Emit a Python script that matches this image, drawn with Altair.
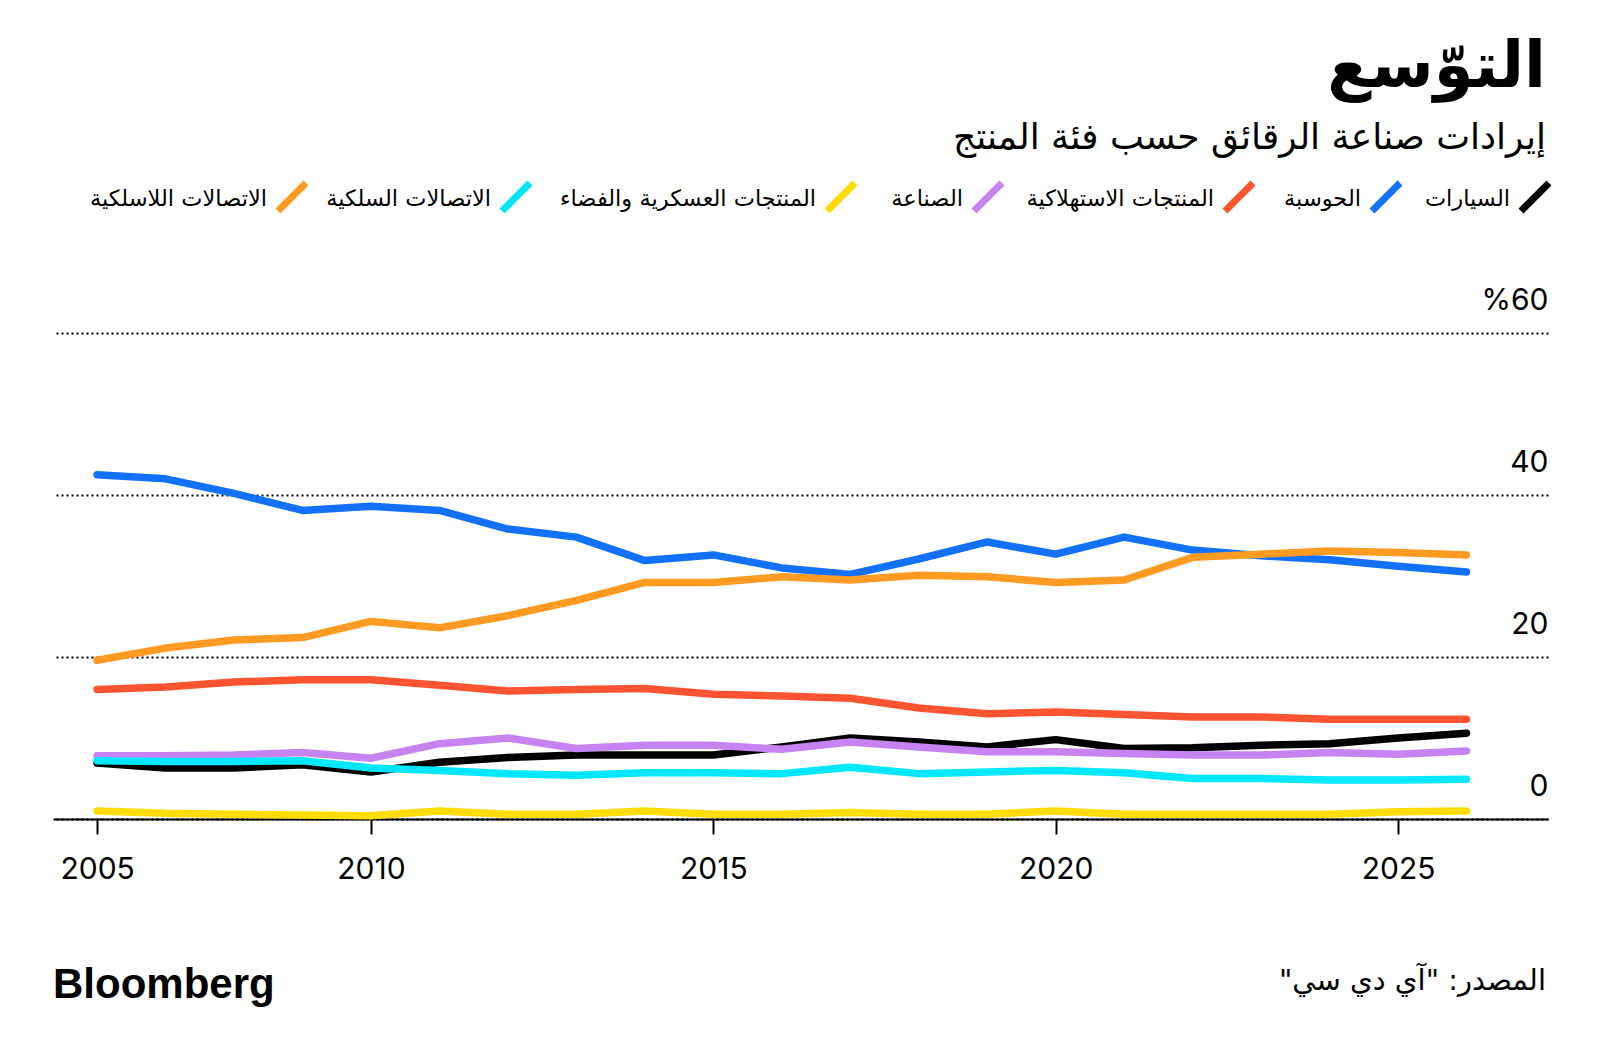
import altair as alt
import pandas as pd

# ---------------- data ----------------
years = list(range(2006, 2027))

series_names = [
    "السيارات",
    "الحوسبة",
    "المنتجات الاستهلاكية",
    "الصناعة",
    "المنتجات العسكرية والفضاء",
    "الاتصالات السلكية",
    "الاتصالات اللاسلكية",
]
series_colors = ["#000000", "#1271ff", "#ff5431", "#c883f2", "#ffdd00", "#00e7ff", "#ff9a22"]

automotive = [6.9, 6.3, 6.3, 6.7, 5.8, 7.0, 7.6, 7.9, 7.9, 7.9, 8.9, 10.0, 9.5, 8.9, 9.8, 8.7, 8.8, 9.1, 9.3, 10.0, 10.6]
computing = [42.5, 42.0, 40.2, 38.1, 38.6, 38.1, 35.8, 34.8, 31.9, 32.6, 31.0, 30.2, 32.1, 34.2, 32.7, 34.8, 33.2, 32.5, 32.0, 31.2, 30.5]
consumer = [16.0, 16.3, 16.9, 17.2, 17.2, 16.5, 15.8, 16.0, 16.1, 15.4, 15.2, 14.9, 13.7, 13.0, 13.2, 12.9, 12.6, 12.6, 12.3, 12.3, 12.3]
industrial = [7.8, 7.8, 7.9, 8.2, 7.5, 9.3, 10.0, 8.7, 9.1, 9.1, 8.6, 9.5, 8.9, 8.3, 8.3, 8.1, 7.9, 7.9, 8.2, 8.0, 8.4]
military = [1.0, 0.7, 0.6, 0.5, 0.4, 1.0, 0.6, 0.6, 1.0, 0.6, 0.6, 0.8, 0.6, 0.6, 1.0, 0.6, 0.6, 0.6, 0.6, 0.9, 1.0]
wired = [7.2, 7.1, 7.1, 7.2, 6.3, 6.0, 5.6, 5.4, 5.7, 5.7, 5.6, 6.4, 5.6, 5.8, 6.0, 5.7, 5.0, 5.0, 4.8, 4.8, 4.9]
wireless = [19.6, 21.1, 22.1, 22.4, 24.4, 23.6, 25.1, 27.0, 29.2, 29.2, 29.9, 29.5, 30.1, 29.9, 29.2, 29.5, 32.3, 32.7, 33.1, 32.9, 32.6]

all_series = [automotive, computing, consumer, industrial, military, wired, wireless]

x_tick_values = [2006, 2010, 2015, 2020, 2025]
x_tick_labels = ["2005", "2010", "2015", "2020", "2025"]
y_tick_values = [0, 20, 40, 60]
y_top_label = "%60"

title_text = "التوّسع"
subtitle_text = "إيرادات صناعة الرقائق حسب فئة المنتج"
source_text = "المصدر: \"آي دي سي\"\u200f"
brand_text = "Bloomberg"

# ---------------- layout constants ----------------
W, H = 1495, 486
AR_FONT = "DejaVu Sans"
NUM_FONT = "Inter"

legend_symbol_x = [1482, 1333, 1186, 935, 788, 463, 239]
legend_y = -136

rows = []
for name, vals in zip(series_names, all_series):
    for yr, v in zip(years, vals):
        rows.append({"year": yr, "value": v, "series": name})
df = pd.DataFrame(rows)

x_label_expr = ""
for v, lab in zip(x_tick_values, x_tick_labels):
    x_label_expr += f"datum.value == {v} ? '{lab}' : "
x_label_expr += "datum.label"

x_enc = alt.X(
    "year:Q",
    scale=alt.Scale(domain=[2005.356, 2027.19], nice=False, zero=False),
    axis=alt.Axis(
        values=x_tick_values, labelExpr=x_label_expr, title=None, grid=False,
        domain=True, domainColor="black", domainWidth=2,
        ticks=True, tickColor="black", tickWidth=2, tickSize=15,
        labelFontSize=30, labelFont=NUM_FONT, labelColor="black",
        labelPadding=20, labelFlush=False, labelOverlap=False,
    ),
)
y_enc = alt.Y(
    "value:Q",
    scale=alt.Scale(domain=[0, 60], nice=False, zero=True),
    axis=alt.Axis(
        orient="right", values=y_tick_values,
        labelExpr=f"datum.value == 60 ? '{y_top_label}' : datum.label",
        title=None, grid=True, gridColor="black", gridDash=[2, 3], gridWidth=2,
        domain=False, ticks=False, tickSize=0,
        labelAlign="right", labelBaseline="alphabetic", labelOffset=-24, labelPadding=0,
        labelFontSize=30, labelFont=NUM_FONT, labelColor="black",
        labelFlush=False, labelOverlap=False,
    ),
)

layers = []
for name, col in zip(series_names, series_colors):
    layers.append(
        alt.Chart(df)
        .transform_filter(alt.datum.series == name)
        .mark_line(color=col, strokeWidth=7.5, strokeCap="round", strokeJoin="round")
        .encode(x=x_enc, y=y_enc)
    )


def text_layer(txt, x, y, size, weight="normal", align="right", font=AR_FONT):
    return (
        alt.Chart(alt.Data(values=[{"t": txt}]))
        .mark_text(align=align, baseline="alphabetic", fontSize=size, fontWeight=weight,
                   font=font, color="black")
        .encode(x=alt.value(x), y=alt.value(y), text="t:N")
    )


# legend
for name, col, sx in zip(series_names, series_colors, legend_symbol_x):
    layers.append(
        alt.Chart(alt.Data(values=[{"s": name}]))
        .mark_point(shape="M-1,1L1,-1", filled=False, stroke=col, strokeWidth=7,
                    size=784, opacity=1)
        .encode(x=alt.value(sx), y=alt.value(legend_y))
    )
    layers.append(text_layer(name, sx - 25, legend_y + 9, 22.5))

layers.append(text_layer(title_text, W - 2, -246, 64, weight="bold"))
layers.append(text_layer(subtitle_text, W - 2, -184, 36))
layers.append(text_layer(source_text, W - 2, 657, 29))
layers.append(text_layer(brand_text, 0, 665, 42, weight="bold", align="left", font="Liberation Sans"))

chart = (
    alt.layer(*layers)
    .properties(
        width=W, height=H,
        autosize=alt.AutoSizeParams(type="none"),
        padding={"left": 45, "top": 325, "right": 40, "bottom": 222},
        background="white",
    )
    .configure_view(stroke=None)
)

chart.save("out.html", embed_options={"renderer": "svg", "actions": False})
